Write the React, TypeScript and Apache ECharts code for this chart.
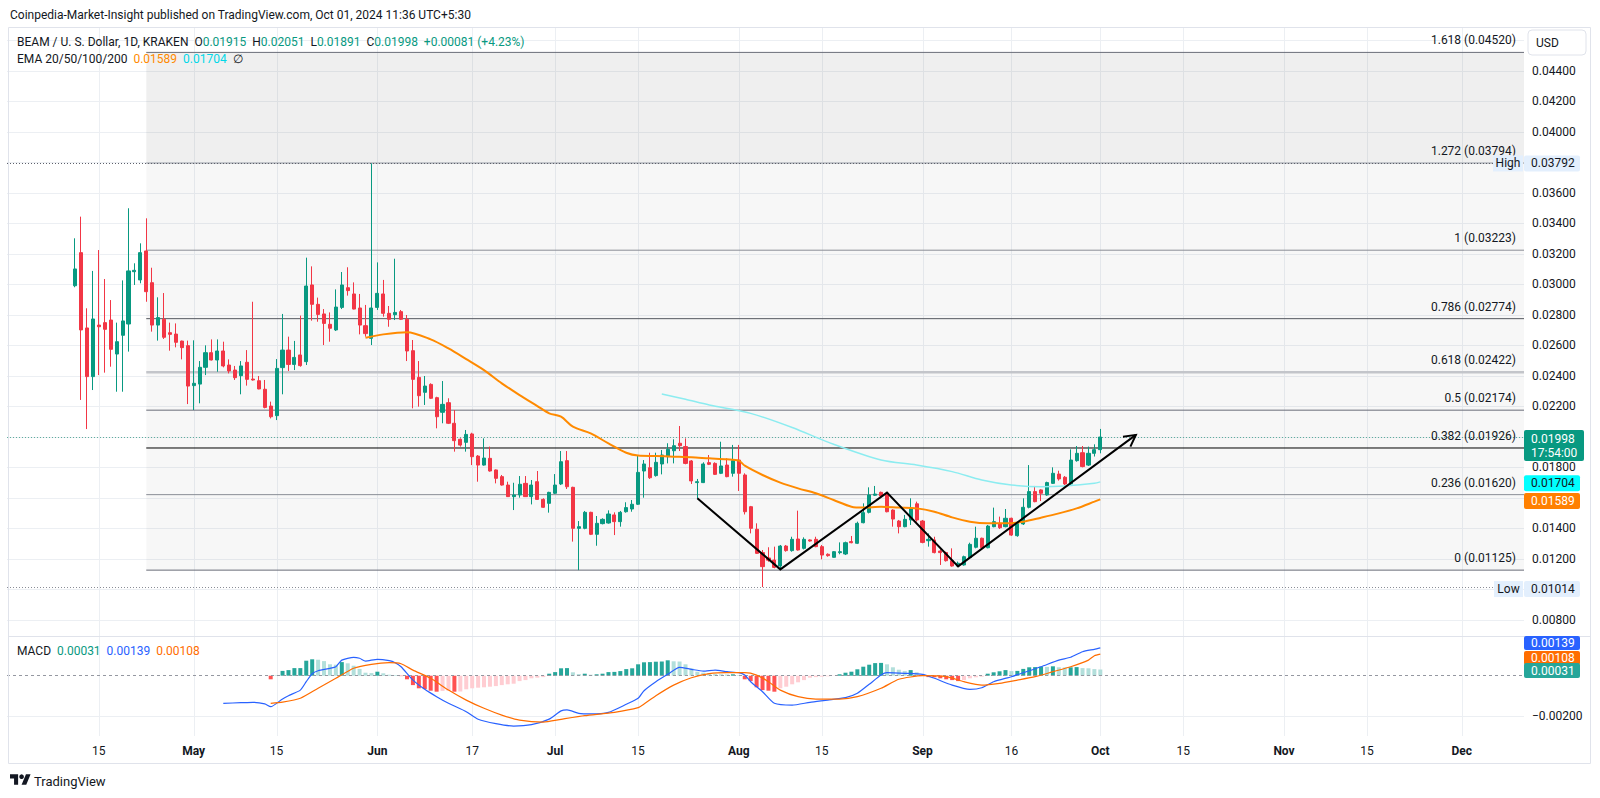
import React, { useEffect, useRef } from "react";
import * as echarts from "echarts";

const axisStart = "2024-03-31";
const axisDayCount = 256;
const candleStart = "2024-04-11";

const xTickDates = ["2024-04-15","2024-05-01","2024-05-15","2024-06-01","2024-06-17","2024-07-01","2024-07-15","2024-08-01","2024-08-15","2024-09-01","2024-09-16","2024-10-01","2024-10-15","2024-11-01","2024-11-15","2024-12-01"];
const xTickLabels = ["15","May","15","Jun","17","Jul","15","Aug","15","Sep","16","Oct","15","Nov","15","Dec"];
const monthLabels = ["May","Jun","Jul","Aug","Sep","Oct","Nov","Dec"];

// [open, high, low, close]
const candles: number[][] = [
  [0.02990,0.03301,0.02980,0.03100],[0.03207,0.03443,0.02241,0.02700],[0.02713,0.02842,0.02050,0.02394],[0.02394,0.03087,0.02306,0.02772],
  [0.02732,0.03224,0.02404,0.02721],[0.02748,0.03034,0.02420,0.02704],[0.02765,0.02896,0.02459,0.02573],[0.02542,0.02748,0.02295,0.02623],
  [0.02665,0.03025,0.02295,0.02759],[0.02739,0.03498,0.02558,0.03087],[0.03082,0.03137,0.02995,0.03091],[0.03028,0.03268,0.03006,0.03207],
  [0.03218,0.03432,0.02885,0.02951],[0.03010,0.03108,0.02689,0.02732],[0.02732,0.02914,0.02630,0.02781],[0.02770,0.02942,0.02641,0.02652],
  [0.02682,0.02748,0.02564,0.02671],[0.02673,0.02743,0.02586,0.02619],[0.02627,0.02630,0.02507,0.02584],[0.02597,0.02630,0.02214,0.02332],
  [0.02335,0.02632,0.02175,0.02350],[0.02345,0.02496,0.02219,0.02455],[0.02455,0.02599,0.02404,0.02551],[0.02551,0.02638,0.02500,0.02503],
  [0.02503,0.02638,0.02426,0.02562],[0.02562,0.02623,0.02455,0.02464],[0.02470,0.02507,0.02415,0.02431],[0.02437,0.02464,0.02372,0.02387],
  [0.02400,0.02496,0.02278,0.02464],[0.02488,0.02568,0.02335,0.02376],[0.02378,0.02885,0.02368,0.02372],[0.02367,0.02398,0.02311,0.02313],
  [0.02311,0.02372,0.02186,0.02192],[0.02201,0.02230,0.02120,0.02131],[0.02138,0.02509,0.02109,0.02448],[0.02453,0.02805,0.02278,0.02568],
  [0.02568,0.02656,0.02431,0.02474],[0.02474,0.02628,0.02437,0.02520],[0.02536,0.02794,0.02459,0.02466],[0.02492,0.03174,0.02470,0.02988],
  [0.02995,0.03117,0.02761,0.02868],[0.02868,0.02912,0.02754,0.02802],[0.02805,0.02837,0.02601,0.02743],[0.02737,0.02815,0.02623,0.02711],
  [0.02700,0.02966,0.02693,0.02850],[0.02848,0.03080,0.02837,0.02995],[0.02977,0.03111,0.02925,0.02958],[0.02936,0.03012,0.02835,0.02837],
  [0.02844,0.02936,0.02671,0.02732],[0.02728,0.02864,0.02656,0.02676],[0.02645,0.03792,0.02601,0.02844],[0.02848,0.03143,0.02831,0.02940],
  [0.02936,0.03028,0.02787,0.02809],[0.02809,0.02857,0.02721,0.02770],[0.02800,0.03167,0.02765,0.02815],[0.02820,0.02831,0.02765,0.02770],
  [0.02770,0.02798,0.02496,0.02562],[0.02564,0.02634,0.02186,0.02376],[0.02389,0.02496,0.02197,0.02269],[0.02291,0.02398,0.02208,0.02332],
  [0.02343,0.02350,0.02247,0.02252],[0.02256,0.02262,0.02055,0.02131],[0.02160,0.02365,0.02088,0.02212],[0.02223,0.02252,0.02083,0.02088],
  [0.02088,0.02175,0.01902,0.01974],[0.01983,0.01989,0.01935,0.01945],[0.01963,0.02044,0.01902,0.02015],[0.02018,0.02026,0.01814,0.01869],
  [0.01873,0.01880,0.01705,0.01814],[0.01814,0.01989,0.01810,0.01860],[0.01858,0.01935,0.01771,0.01775],[0.01782,0.01785,0.01694,0.01727],
  [0.01738,0.01749,0.01679,0.01683],[0.01683,0.01705,0.01605,0.01607],[0.01607,0.01698,0.01519,0.01618],[0.01618,0.01742,0.01600,0.01688],
  [0.01694,0.01742,0.01605,0.01607],[0.01607,0.01716,0.01556,0.01683],[0.01705,0.01775,0.01585,0.01589],[0.01589,0.01596,0.01534,0.01537],
  [0.01563,0.01639,0.01502,0.01635],[0.01629,0.01755,0.01624,0.01683],[0.01690,0.01906,0.01683,0.01836],[0.01843,0.01906,0.01657,0.01672],
  [0.01668,0.01672,0.01312,0.01399],[0.01399,0.01447,0.01125,0.01410],[0.01399,0.01513,0.01393,0.01504],[0.01504,0.01508,0.01355,0.01360],
  [0.01360,0.01480,0.01285,0.01432],[0.01430,0.01465,0.01425,0.01458],[0.01434,0.01517,0.01430,0.01493],[0.01487,0.01504,0.01355,0.01443],
  [0.01443,0.01513,0.01410,0.01504],[0.01508,0.01570,0.01502,0.01535],[0.01526,0.01585,0.01508,0.01557],[0.01557,0.01880,0.01552,0.01766],
  [0.01775,0.01847,0.01600,0.01821],[0.01797,0.01895,0.01723,0.01731],[0.01745,0.01895,0.01738,0.01832],[0.01821,0.01913,0.01753,0.01880],
  [0.01869,0.01957,0.01825,0.01917],[0.01908,0.01983,0.01825,0.01941],[0.01957,0.02070,0.01906,0.01941],[0.01935,0.01989,0.01819,0.01825],
  [0.01841,0.01847,0.01690,0.01710],[0.01699,0.01723,0.01596,0.01705],[0.01699,0.01832,0.01696,0.01821],[0.01830,0.01880,0.01814,0.01819],
  [0.01825,0.01832,0.01749,0.01753],[0.01760,0.01967,0.01755,0.01808],[0.01814,0.01858,0.01734,0.01738],[0.01760,0.01946,0.01738,0.01843],
  [0.01847,0.01946,0.01644,0.01760],[0.01749,0.01760,0.01490,0.01508],[0.01541,0.01546,0.01366,0.01399],[0.01393,0.01432,0.01231,0.01235],
  [0.01240,0.01257,0.01014,0.01148],[0.01205,0.01275,0.01180,0.01190],[0.01191,0.01279,0.01137,0.01143],[0.01152,0.01290,0.01137,0.01283],
  [0.01283,0.01290,0.01246,0.01253],[0.01253,0.01344,0.01246,0.01327],[0.01329,0.01515,0.01253,0.01257],[0.01268,0.01340,0.01261,0.01327],
  [0.01323,0.01327,0.01312,0.01316],[0.01327,0.01344,0.01275,0.01279],[0.01279,0.01290,0.01196,0.01224],[0.01229,0.01235,0.01213,0.01220],
  [0.01209,0.01250,0.01207,0.01246],[0.01240,0.01307,0.01229,0.01246],[0.01231,0.01312,0.01224,0.01305],[0.01312,0.01349,0.01301,0.01305],
  [0.01301,0.01443,0.01296,0.01432],[0.01436,0.01563,0.01432,0.01502],[0.01504,0.01668,0.01497,0.01618],[0.01616,0.01677,0.01611,0.01624],
  [0.01635,0.01640,0.01607,0.01611],[0.01629,0.01633,0.01504,0.01508],[0.01519,0.01524,0.01410,0.01460],[0.01447,0.01454,0.01366,0.01410],
  [0.01410,0.01487,0.01406,0.01458],[0.01454,0.01596,0.01421,0.01530],[0.01560,0.01574,0.01443,0.01454],[0.01447,0.01454,0.01301,0.01307],
  [0.01318,0.01366,0.01279,0.01327],[0.01323,0.01344,0.01235,0.01240],[0.01250,0.01261,0.01159,0.01240],[0.01240,0.01246,0.01181,0.01187],
  [0.01187,0.01268,0.01148,0.01152],[0.01152,0.01181,0.01148,0.01170],[0.01159,0.01220,0.01154,0.01213],[0.01207,0.01305,0.01202,0.01294],
  [0.01275,0.01410,0.01268,0.01334],[0.01334,0.01338,0.01268,0.01272],[0.01272,0.01421,0.01268,0.01414],[0.01410,0.01535,0.01406,0.01443],
  [0.01432,0.01476,0.01395,0.01403],[0.01410,0.01526,0.01406,0.01465],[0.01465,0.01469,0.01349,0.01355],[0.01351,0.01436,0.01344,0.01432],
  [0.01428,0.01596,0.01421,0.01537],[0.01537,0.01814,0.01530,0.01640],[0.01640,0.01677,0.01570,0.01574],[0.01651,0.01655,0.01578,0.01629],
  [0.01618,0.01705,0.01613,0.01699],[0.01694,0.01799,0.01690,0.01760],[0.01755,0.01777,0.01712,0.01723],[0.01734,0.01742,0.01683,0.01690],
  [0.01690,0.01917,0.01683,0.01847],[0.01843,0.01939,0.01836,0.01891],[0.01895,0.01939,0.01799,0.01804],[0.01814,0.01935,0.01808,0.01891],
  [0.01891,0.01950,0.01870,0.01915],[0.01915,0.02051,0.01891,0.01998]
];

const ema50: [string, number][] = [
  ["2024-05-30",0.02649],["2024-06-02",0.02671],["2024-06-06",0.02685],["2024-06-10",0.02638],["2024-06-13",0.02579],
  ["2024-06-16",0.02509],["2024-06-19",0.02437],["2024-06-22",0.02350],["2024-06-25",0.02273],["2024-06-28",0.02201],
  ["2024-06-30",0.02153],["2024-07-02",0.02131],["2024-07-04",0.02066],["2024-07-07",0.02022],["2024-07-10",0.01956],
  ["2024-07-13",0.01895],["2024-07-15",0.01876],["2024-07-18",0.01873],["2024-07-21",0.01869],["2024-07-24",0.01865],
  ["2024-07-27",0.01858],["2024-07-30",0.01852],["2024-08-01",0.01843],["2024-08-02",0.01810],["2024-08-05",0.01749],
  ["2024-08-08",0.01699],["2024-08-11",0.01661],["2024-08-14",0.01629],["2024-08-17",0.01585],["2024-08-20",0.01541],
  ["2024-08-22",0.01535],["2024-08-25",0.01541],["2024-08-28",0.01535],["2024-08-31",0.01530],["2024-09-03",0.01508],
  ["2024-09-06",0.01471],["2024-09-09",0.01443],["2024-09-12",0.01432],["2024-09-15",0.01432],["2024-09-18",0.01443],
  ["2024-09-21",0.01469],["2024-09-24",0.01497],["2024-09-27",0.01530],["2024-09-30",0.01574],["2024-10-01",0.01589]
];

const ema100: [string, number][] = [
  ["2024-07-19",0.02280],["2024-07-23",0.02245],["2024-07-27",0.02208],["2024-08-03",0.02153],["2024-08-10",0.02060],
  ["2024-08-17",0.01950],["2024-08-25",0.01847],["2024-08-31",0.01814],["2024-09-06",0.01771],["2024-09-11",0.01716],
  ["2024-09-16",0.01683],["2024-09-21",0.01672],["2024-09-25",0.01677],["2024-09-30",0.01694],["2024-10-01",0.01704]
];

const macdHistStart = "2024-05-14";
const macdHist: number[] = [
  -0.00018,0.00001,0.00024,0.00028,0.00038,0.00038,0.00075,0.00082,0.00080,0.00073,0.00057,0.00055,0.00068,0.00062,0.00050,0.00034,0.00015,0.00013,
  0.00020,0.00012,0.00005,0.00003,-0.00002,-0.00018,-0.00047,-0.00063,-0.00067,-0.00075,-0.00080,-0.00076,-0.00075,-0.00080,-0.00079,-0.00068,-0.00063,-0.00060,-0.00058,-0.00055,-0.00052,-0.00047,-0.00043,-0.00040,-0.00027,-0.00022,-0.00013,-0.00010,-0.00007,0.00010,
  0.00018,0.00037,0.00038,0.00017,0.00008,0.00010,0.00005,0.00007,0.00010,0.00018,0.00019,0.00023,0.00033,0.00037,0.00057,0.00067,0.00068,0.00070,0.00071,0.00077,0.00072,0.00071,0.00057,0.00037,0.00020,0.00015,0.00012,0.00008,0.00007,0.00006,0.00007,
  0.00003,-0.00018,-0.00027,-0.00058,-0.00072,-0.00075,-0.00080,-0.00063,-0.00055,-0.00043,-0.00033,-0.00022,-0.00010,-0.00007,-0.00005,-0.00003,-0.00001,0.00007,0.00015,0.00020,0.00032,0.00045,0.00055,0.00063,0.00064,0.00057,0.00042,0.00030,0.00023,0.00028,0.00017,
  0.00003,-0.00007,-0.00008,-0.00013,-0.00018,-0.00022,-0.00027,-0.00022,-0.00013,-0.00008,-0.00005,0.00010,0.00017,0.00022,0.00028,0.00023,0.00024,0.00034,0.00042,0.00043,0.00045,0.00044,0.00047,0.00042,0.00041,0.00042,0.00043,0.00038,0.00037,0.00033,
  0.00031
];

const macdLine: [string, number][] = [
  ["2024-05-06",-0.00138],["2024-05-09",-0.00135],["2024-05-11",-0.00133],["2024-05-13",-0.00141],["2024-05-14",-0.00155],["2024-05-16",-0.00116],
  ["2024-05-17",-0.00100],["2024-05-19",-0.00072],["2024-05-20",-0.00030],["2024-05-21",0.00010],["2024-05-22",0.00025],["2024-05-24",0.00037],
  ["2024-05-25",0.00045],["2024-05-26",0.00078],["2024-05-28",0.00092],["2024-05-29",0.00087],["2024-05-30",0.00073],["2024-06-01",0.00082],
  ["2024-06-03",0.00075],["2024-06-04",0.00065],["2024-06-05",0.00045],["2024-06-07",-0.00022],["2024-06-09",-0.00068],["2024-06-11",-0.00105],
  ["2024-06-13",-0.00138],["2024-06-16",-0.00180],["2024-06-18",-0.00218],["2024-06-21",-0.00240],["2024-06-24",-0.00252],["2024-06-27",-0.00245],
  ["2024-06-30",-0.00217],["2024-07-02",-0.00176],["2024-07-03",-0.00171],["2024-07-05",-0.00188],["2024-07-07",-0.00191],["2024-07-10",-0.00183],
  ["2024-07-13",-0.00143],["2024-07-15",-0.00113],["2024-07-16",-0.00075],["2024-07-18",-0.00030],["2024-07-20",0.00007],["2024-07-22",0.00042],
  ["2024-07-24",0.00032],["2024-07-26",0.00023],["2024-07-28",0.00028],["2024-07-30",0.00020],["2024-08-01",0.00015],["2024-08-02",0.00003],
  ["2024-08-03",-0.00030],["2024-08-05",-0.00080],["2024-08-07",-0.00138],["2024-08-10",-0.00147],["2024-08-13",-0.00133],["2024-08-16",-0.00122],
  ["2024-08-19",-0.00110],["2024-08-21",-0.00088],["2024-08-23",-0.00043],["2024-08-25",0.00003],["2024-08-26",0.00015],["2024-08-29",0.00012],
  ["2024-09-01",0.00007],["2024-09-03",-0.00013],["2024-09-06",-0.00047],["2024-09-09",-0.00068],["2024-09-11",-0.00060],["2024-09-13",-0.00030],
  ["2024-09-16",-0.00005],["2024-09-18",0.00015],["2024-09-21",0.00045],["2024-09-24",0.00078],["2024-09-26",0.00092],["2024-09-28",0.00120],
  ["2024-09-30",0.00132],["2024-10-01",0.00139]
];

const signalLine: [string, number][] = [
  ["2024-05-14",-0.00138],["2024-05-16",-0.00132],["2024-05-19",-0.00113],["2024-05-22",-0.00063],["2024-05-25",-0.00013],["2024-05-28",0.00037],
  ["2024-05-31",0.00057],["2024-06-03",0.00065],["2024-06-05",0.00060],["2024-06-07",0.00028],["2024-06-10",-0.00013],["2024-06-13",-0.00072],
  ["2024-06-16",-0.00122],["2024-06-19",-0.00163],["2024-06-22",-0.00197],["2024-06-25",-0.00222],["2024-06-29",-0.00232],["2024-07-02",-0.00218],
  ["2024-07-06",-0.00200],["2024-07-11",-0.00183],["2024-07-15",-0.00160],["2024-07-16",-0.00142],["2024-07-18",-0.00100],["2024-07-21",-0.00047],
  ["2024-07-24",-0.00010],["2024-07-27",0.00010],["2024-07-30",0.00015],["2024-08-02",0.00015],["2024-08-04",0.00003],["2024-08-06",-0.00030],
  ["2024-08-08",-0.00072],["2024-08-11",-0.00105],["2024-08-14",-0.00117],["2024-08-18",-0.00117],["2024-08-21",-0.00105],["2024-08-25",-0.00063],
  ["2024-08-28",-0.00018],["2024-09-01",0.00000],["2024-09-05",-0.00005],["2024-09-08",-0.00030],["2024-09-11",-0.00047],["2024-09-14",-0.00038],
  ["2024-09-17",-0.00022],["2024-09-20",-0.00005],["2024-09-23",0.00020],["2024-09-26",0.00045],["2024-09-29",0.00078],["2024-09-30",0.00100],
  ["2024-10-01",0.00108]
];

const fibStart = "2024-04-23";
const fibLevels = ["0","0.236","0.382","0.5","0.618","0.786","1","1.272","1.618"];
const fibPrices = [0.01125,0.01620,0.01926,0.02174,0.02422,0.02774,0.03223,0.03794,0.04520];

const trendPoints: [string, number][] = [
  ["2024-07-25",0.01596],["2024-08-08",0.01130],["2024-08-26",0.01633],["2024-09-07",0.01150],["2024-10-07",0.02012]
];

const priceGridLevels = [0.008,0.010,0.012,0.014,0.016,0.018,0.020,0.022,0.024,0.026,0.028,0.030,0.032,0.034,0.036,0.038,0.040,0.042,0.044,0.046];
const hiddenPriceLabels = [6,10,16,20,38,46,48];

const highPrice = 0.03792;
const lowPrice = 0.01014;
const lastPrice = 0.01998;
const lastTimer = "17:54:00";
const ema50Last = 0.01589;
const ema100Last = 0.01704;
const histLast = 0.00031;
const macdLast = 0.00139;
const signalLast = 0.00108;
const ohlcLegend = ["0.01915","0.02051","0.01891","0.01998"];
const changeLegend = "+0.00081 (+4.23%)";

const UP = "#089981";
const DOWN = "#f23645";
const GRID = "#eceff3";
const TXT = "#131722";
const EMA50C = "#ff8a00";
const EMA100C = "#8cecf0";
const MACDC = "#2962ff";
const SIGC = "#ff6d00";

const DAY = 86400000;
const t0 = Date.parse(axisStart + "T00:00:00Z");
const categories = Array.from({ length: axisDayCount }, (_, i) => new Date(t0 + i * DAY).toISOString().slice(0, 10));
const idxOf = (d: string) => Math.round((Date.parse(d + "T00:00:00Z") - t0) / DAY);
const tickMap = new Map<string, string>(xTickDates.map((d, i) => [d, xTickLabels[i]]));

function buildOption() {
  const c0 = idxOf(candleStart);
  const candleData = candles.map((c, k) => [c0 + k, c[0], c[3], c[2], c[1]]);
  const h0 = idxOf(macdHistStart);
  const histData = macdHist.map((v, k) => {
    const prev = k > 0 ? macdHist[k - 1] : v;
    let color;
    if (v >= 0) color = v >= prev ? "#26a69a" : "#b2dfdb";
    else color = v <= prev ? "#ff5252" : "#ffcdd2";
    return { value: [h0 + k, v], itemStyle: { color } };
  });
  const fibIdx = idxOf(fibStart);
  const fibFills = ["rgba(0,0,0,0.032)","rgba(0,0,0,0.032)","rgba(0,0,0,0.032)","rgba(0,0,0,0.032)","rgba(0,0,0,0.032)","rgba(0,0,0,0.032)","rgba(0,0,0,0.032)","rgba(0,0,0,0.064)"];
  const fibStroke = ["#6a6d78","#8a8d96","#000000","#6a6d78","#c3c5ca","#55585f","#8a8d96","#9a9da5","#6a6d78"];
  const fibWidth = [1,1,1,1,2.5,1,1,1,1];

  return {
    animation: false,
    textStyle: { fontFamily: "Roboto" },
    grid: [
      { left: 7, right: 76, top: 9.7, height: 640.5 },
      { left: 7, right: 76, top: 635.7, height: 100 }
    ],
    xAxis: [
      { type: "category", gridIndex: 0, data: categories, axisLine: { show: false }, axisTick: { show: false }, axisLabel: { show: false }, splitLine: { show: false } },
      {
        type: "category", gridIndex: 1, data: categories, axisLine: { show: false }, axisTick: { show: false }, splitLine: { show: false },
        axisLabel: {
          interval: (_i: number, v: string) => tickMap.has(v),
          formatter: (v: string) => {
            const l = tickMap.get(v);
            if (!l) return "";
            return monthLabels.includes(l) ? "{m|" + l + "}" : l;
          },
          color: TXT, fontSize: 12, margin: 9,
          rich: { m: { fontWeight: "bold", fontSize: 12, color: TXT } }
        }
      }
    ],
    yAxis: [
      {
        type: "value", gridIndex: 0, position: "right", min: 0.006, max: 0.048, interval: 0.002,
        axisLine: { show: false }, axisTick: { show: false }, splitLine: { show: false },
        axisLabel: {
          color: TXT, fontSize: 12, margin: 8,
          formatter: (v: number) => (hiddenPriceLabels.includes(Math.round(v * 1000)) ? "" : v.toFixed(5))
        }
      },
      {
        type: "value", gridIndex: 1, position: "right", min: -0.003, max: 0.002, interval: 0.001,
        axisLine: { show: false }, axisTick: { show: false }, splitLine: { show: false },
        axisLabel: {
          color: TXT, fontSize: 12, margin: 8,
          formatter: (v: number) => (Math.round(v * 10000) === -20 ? "\u22120.00200" : "")
        }
      }
    ],
    series: [
      {
        type: "custom", name: "vgrid", xAxisIndex: 0, yAxisIndex: 0, z: 0, silent: true,
        data: xTickDates.map((d) => [idxOf(d), 0.02]),
        renderItem: (_params: any, api: any) => {
          const x = Math.round(api.coord([api.value(0), 0.02])[0]) + 0.5;
          return { type: "line", shape: { x1: x, y1: 27, x2: x, y2: 736 }, style: { stroke: GRID, lineWidth: 1 } };
        }
      },
      {
        type: "custom", name: "hgrid", xAxisIndex: 0, yAxisIndex: 0, z: 0, silent: true,
        data: priceGridLevels.map((p) => [0, p]),
        renderItem: (params: any, api: any) => {
          const cs = params.coordSys;
          const y = Math.round(api.coord([0, api.value(1)])[1]) + 0.5;
          return { type: "line", shape: { x1: cs.x, y1: y, x2: cs.x + cs.width, y2: y }, style: { stroke: GRID, lineWidth: 1 } };
        }
      },
      {
        type: "custom", name: "fib", xAxisIndex: 0, yAxisIndex: 0, z: 1, silent: true,
        data: fibPrices.map((p, k) => [fibIdx, p, k]),
        renderItem: (params: any, api: any) => {
          const k = api.value(2);
          const cs = params.coordSys;
          const pt = api.coord([fibIdx, fibPrices[k]]);
          const x0 = pt[0];
          const y = pt[1];
          const x1 = cs.x + cs.width;
          const children: any[] = [];
          if (k < fibPrices.length - 1) {
            const yTop = api.coord([fibIdx, fibPrices[k + 1]])[1];
            children.push({ type: "rect", shape: { x: x0, y: yTop, width: x1 - x0, height: y - yTop }, style: { fill: fibFills[k] } });
          }
          children.push({ type: "line", shape: { x1: x0, y1: y, x2: x1, y2: y }, style: { stroke: fibStroke[k], lineWidth: fibWidth[k] } });
          return { type: "group", children };
        }
      },
      {
        type: "custom", name: "fibLabels", xAxisIndex: 0, yAxisIndex: 0, z: 8, silent: true,
        data: fibPrices.map((p, k) => [fibIdx, p, k]),
        renderItem: (params: any, api: any) => {
          const k = api.value(2);
          const cs = params.coordSys;
          const y = api.coord([fibIdx, fibPrices[k]])[1];
          return {
            type: "text", x: cs.x + cs.width - 8, y: y - 12,
            style: { text: fibLevels[k] + " (" + fibPrices[k].toFixed(5) + ")", align: "right", verticalAlign: "middle", fill: TXT, font: "12px Roboto" }
          };
        }
      },
      {
        type: "candlestick", name: "BEAM", xAxisIndex: 0, yAxisIndex: 0, z: 5, barWidth: 3.6,
        encode: { x: 0, y: [1, 2, 3, 4] },
        data: candleData,
        itemStyle: { color: UP, color0: DOWN, borderColor: UP, borderColor0: DOWN, borderWidth: 1 },
        markLine: {
          symbol: "none", silent: true, precision: 8, label: { show: false },
          data: [
            { yAxis: highPrice, lineStyle: { color: "#5d606b", type: [1, 2], width: 1 } },
            { yAxis: lowPrice, lineStyle: { color: "#8a8d96", type: [1, 2], width: 1 } },
            { yAxis: lastPrice, lineStyle: { color: "#5fae9e", type: [1, 2], width: 1 } }
          ]
        }
      },
      {
        type: "line", name: "EMA50", xAxisIndex: 0, yAxisIndex: 0, z: 6, showSymbol: false, smooth: 0.3,
        data: ema50.map(([d, v]) => [idxOf(d), v]), lineStyle: { color: EMA50C, width: 2 }
      },
      {
        type: "line", name: "EMA100", xAxisIndex: 0, yAxisIndex: 0, z: 6, showSymbol: false, smooth: 0.3,
        data: ema100.map(([d, v]) => [idxOf(d), v]), lineStyle: { color: EMA100C, width: 1.5 }
      },
      {
        type: "custom", name: "trend", xAxisIndex: 0, yAxisIndex: 0, z: 7, silent: true,
        data: [[idxOf(trendPoints[0][0]), trendPoints[0][1]]],
        renderItem: (_params: any, api: any) => {
          const pts = trendPoints.map(([d, v]) => api.coord([idxOf(d), v]));
          const n = pts.length;
          const tip = pts[n - 1];
          const prev = pts[n - 2];
          const ang = Math.atan2(tip[1] - prev[1], tip[0] - prev[0]);
          const L = 13;
          const a1 = ang + Math.PI - 0.5;
          const a2 = ang + Math.PI + 0.5;
          return {
            type: "group",
            children: [
              { type: "polyline", shape: { points: pts }, style: { stroke: "#000", lineWidth: 2, fill: "none" } },
              {
                type: "polyline",
                shape: { points: [[tip[0] + L * Math.cos(a1), tip[1] + L * Math.sin(a1)], tip, [tip[0] + L * Math.cos(a2), tip[1] + L * Math.sin(a2)]] },
                style: { stroke: "#000", lineWidth: 2, fill: "none" }
              }
            ]
          };
        }
      },
      {
        type: "custom", name: "macdgrid", xAxisIndex: 1, yAxisIndex: 1, z: 0, silent: true,
        data: [[0, -0.002]],
        renderItem: (params: any, api: any) => {
          const cs = params.coordSys;
          const y = Math.round(api.coord([0, -0.002])[1]) + 0.5;
          return { type: "line", shape: { x1: cs.x, y1: y, x2: cs.x + cs.width, y2: y }, style: { stroke: GRID, lineWidth: 1 } };
        }
      },
      {
        type: "bar", name: "Histogram", xAxisIndex: 1, yAxisIndex: 1, z: 4, barWidth: 4,
        data: histData,
        markLine: {
          symbol: "none", silent: true, precision: 8, label: { show: false },
          data: [{ yAxis: 0, lineStyle: { color: "#9598a1", type: [3, 3], width: 1 } }]
        }
      },
      {
        type: "line", name: "MACD", xAxisIndex: 1, yAxisIndex: 1, z: 6, showSymbol: false, smooth: 0.2,
        data: macdLine.map(([d, v]) => [idxOf(d), v]), lineStyle: { color: MACDC, width: 1.2 }
      },
      {
        type: "line", name: "Signal", xAxisIndex: 1, yAxisIndex: 1, z: 6, showSymbol: false, smooth: 0.2,
        data: signalLine.map(([d, v]) => [idxOf(d), v]), lineStyle: { color: SIGC, width: 1.2 }
      }
    ]
  };
}

function badge(y: number, text: string, bg: string, fg: string, x = 1524, w = 56, h = 16) {
  return [
    { type: "rect", z: 100, shape: { x, y: y - h / 2, width: w, height: h, r: 2 }, style: { fill: bg } },
    { type: "text", z: 101, x: x + 7, y, style: { text, fill: fg, font: "12px Roboto", verticalAlign: "middle" } }
  ];
}

function buildGraphics(chart: any) {
  const py = (p: number) => chart.convertToPixel({ yAxisIndex: 0 }, p);
  const my = (v: number) => chart.convertToPixel({ yAxisIndex: 1 }, v);
  const g: any[] = [];
  // frame
  g.push({ type: "rect", z: 90, shape: { x: 8.5, y: 27.5, width: 1582, height: 736 }, style: { fill: "none", stroke: "#e0e3eb", lineWidth: 1 } });
  g.push({ type: "line", z: 90, shape: { x1: 8, y1: 636.5, x2: 1590, y2: 636.5 }, style: { stroke: "#e0e3eb", lineWidth: 1 } });
  // header
  g.push({ type: "text", z: 100, x: 10, y: 15, style: { text: "Coinpedia-Market-Insight published on TradingView.com, Oct 01, 2024 11:36 UTC+5:30", fill: TXT, font: "12px Roboto", verticalAlign: "middle" } });
  g.push({
    type: "text", z: 100, x: 17, y: 42,
    style: {
      text: "{n|BEAM / U. S. Dollar, 1D, KRAKEN}  {n|O}{g|" + ohlcLegend[0] + "}  {n|H}{g|" + ohlcLegend[1] + "}  {n|L}{g|" + ohlcLegend[2] + "}  {n|C}{g|" + ohlcLegend[3] + "}  {g|" + changeLegend + "}",
      verticalAlign: "middle", font: "12px Roboto",
      rich: { n: { fill: TXT, font: "12px Roboto" }, g: { fill: UP, font: "12px Roboto" } }
    }
  });
  g.push({
    type: "text", z: 100, x: 17, y: 59,
    style: {
      text: "{n|EMA 20/50/100/200}  {o|" + ema50Last.toFixed(5) + "}  {c|" + ema100Last.toFixed(5) + "}  {n|\u2205}",
      verticalAlign: "middle", font: "12px Roboto",
      rich: { n: { fill: TXT, font: "12px Roboto" }, o: { fill: EMA50C, font: "12px Roboto" }, c: { fill: "#00d8e8", font: "12px Roboto" } }
    }
  });
  g.push({
    type: "text", z: 100, x: 17, y: 651,
    style: {
      text: "{n|MACD}  {g|" + histLast.toFixed(5) + "}  {b|" + macdLast.toFixed(5) + "}  {o|" + signalLast.toFixed(5) + "}",
      verticalAlign: "middle", font: "12px Roboto",
      rich: { n: { fill: TXT, font: "12px Roboto" }, g: { fill: UP, font: "12px Roboto" }, b: { fill: MACDC, font: "12px Roboto" }, o: { fill: SIGC, font: "12px Roboto" } }
    }
  });
  // USD box
  g.push({ type: "rect", z: 100, shape: { x: 1528, y: 30, width: 58, height: 25, r: 4 }, style: { fill: "#fff", stroke: "#e0e3eb", lineWidth: 1 } });
  g.push({ type: "text", z: 101, x: 1536, y: 43, style: { text: "USD", fill: TXT, font: "12px Roboto", verticalAlign: "middle" } });
  // High / Low
  const yh = py(highPrice);
  g.push({ type: "rect", z: 100, shape: { x: 1493, y: yh - 8, width: 30, height: 16 }, style: { fill: "#e3effd" } });
  g.push({ type: "text", z: 101, x: 1508, y: yh, style: { text: "High", fill: TXT, font: "12px Roboto", align: "center", verticalAlign: "middle" } });
  g.push(...badge(yh, highPrice.toFixed(5), "#e3effd", TXT));
  const yl = py(lowPrice);
  g.push({ type: "rect", z: 100, shape: { x: 1494, y: yl - 6, width: 29, height: 16 }, style: { fill: "#e3effd" } });
  g.push({ type: "text", z: 101, x: 1508.5, y: yl + 2, style: { text: "Low", fill: TXT, font: "12px Roboto", align: "center", verticalAlign: "middle" } });
  g.push(...badge(yl + 2, lowPrice.toFixed(5), "#e3effd", TXT));
  // last price
  const yp = py(lastPrice);
  g.push({ type: "rect", z: 100, shape: { x: 1524, y: yp - 7, width: 60, height: 31, r: 2 }, style: { fill: UP } });
  g.push({ type: "text", z: 101, x: 1531, y: yp + 2, style: { text: lastPrice.toFixed(5), fill: "#fff", font: "12px Roboto", verticalAlign: "middle" } });
  g.push({ type: "text", z: 101, x: 1531, y: yp + 16, style: { text: lastTimer, fill: "#fff", font: "12px Roboto", verticalAlign: "middle" } });
  // EMA badges
  g.push(...badge(py(ema100Last) + 1.5, ema100Last.toFixed(5), "#00ffff", TXT));
  g.push(...badge(py(ema50Last) + 1.5, ema50Last.toFixed(5), "#ff8000", "#fff"));
  // MACD badges (stacked so that each stays readable)
  g.push(...badge(my(macdLast) - 5, macdLast.toFixed(5), MACDC, "#fff", 1524, 56, 14));
  g.push(...badge(my(signalLast) + 4, signalLast.toFixed(5), SIGC, "#fff", 1524, 56, 14));
  g.push(...badge(my(histLast) + 1, histLast.toFixed(5), "#26a69a", "#fff", 1524, 56, 15));
  // TradingView logo
  g.push({
    type: "group", z: 100, x: 10, y: 772, scaleX: 0.58, scaleY: 0.58,
    children: [
      { type: "polygon", shape: { points: [[14, 22], [7, 22], [7, 11], [0, 11], [0, 4], [14, 4]] }, style: { fill: TXT } },
      { type: "polygon", shape: { points: [[28, 22], [20, 22], [27.5, 4], [35.5, 4]] }, style: { fill: TXT } },
      { type: "circle", shape: { cx: 20, cy: 8, r: 4 }, style: { fill: TXT } }
    ]
  });
  g.push({ type: "text", z: 100, x: 34, y: 781, style: { text: "TradingView", fill: TXT, font: "13px Roboto", verticalAlign: "middle" } });
  return g;
}

export default function App() {
  const ref = useRef<HTMLDivElement>(null);
  useEffect(() => {
    document.body.style.margin = "0";
    const chart = echarts.init(ref.current as HTMLDivElement, null, { renderer: "svg" });
    chart.setOption(buildOption() as any);
    chart.setOption({ graphic: buildGraphics(chart) } as any);
    return () => chart.dispose();
  }, []);
  return <div ref={ref} style={{ width: 1600, height: 798, background: "#fff" }} />;
}
